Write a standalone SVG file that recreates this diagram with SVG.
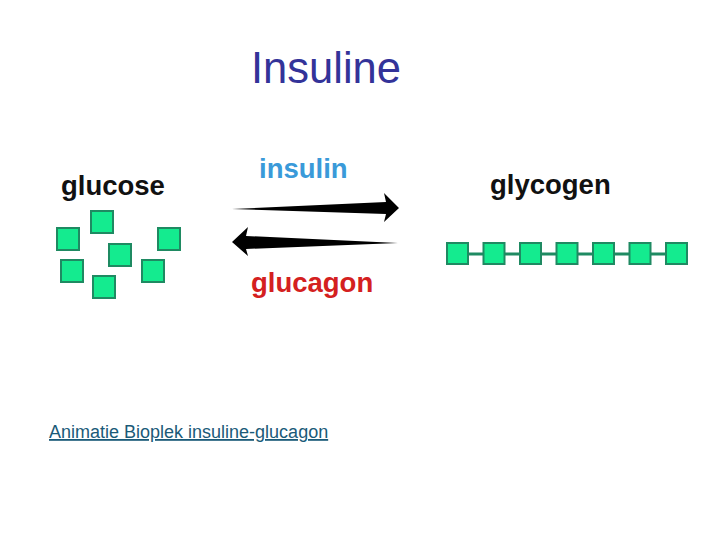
<svg xmlns="http://www.w3.org/2000/svg" width="720" height="540" viewBox="0 0 720 540">
<style>
.sq{fill:#14eb8f;stroke:#1f8a62;stroke-width:2}
.lb{font-family:"Liberation Sans",Arial,sans-serif;font-weight:bold;font-size:27.5px}
</style>
<rect width="720" height="540" fill="#fff"/>
<text x="251" y="83" font-family="Liberation Sans,Arial,sans-serif" font-size="43.5" fill="#333399">Insuline</text>
<g id="glucose">
<text class="lb" x="61" y="195" fill="#111">glucose</text>
<rect class="sq" x="91" y="211" width="22" height="22"/>
<rect class="sq" x="57" y="228" width="22" height="22"/>
<rect class="sq" x="109" y="244" width="22" height="22"/>
<rect class="sq" x="158" y="228" width="22" height="22"/>
<rect class="sq" x="61" y="260" width="22" height="22"/>
<rect class="sq" x="142" y="260" width="22" height="22"/>
<rect class="sq" x="93" y="276" width="22" height="22"/>
</g>
<g id="glycogen">
<text class="lb" x="490" y="194" font-size="28" fill="#111">glycogen</text>
<line x1="458" y1="254" x2="678" y2="254" stroke="#1f8a62" stroke-width="3"/>
<rect class="sq" x="447" y="243" width="21" height="21"/>
<rect class="sq" x="483.5" y="243" width="21" height="21"/>
<rect class="sq" x="520" y="243" width="21" height="21"/>
<rect class="sq" x="556.5" y="243" width="21" height="21"/>
<rect class="sq" x="593" y="243" width="21" height="21"/>
<rect class="sq" x="629.5" y="243" width="21" height="21"/>
<rect class="sq" x="666" y="243" width="21" height="21"/>
</g>
<g id="connectors">
<path d="M232,209 L386,202 L384,193 L399,208 L384,222 L386,214 Z" fill="#000"/>
<path d="M398,243 L246,236 L248,227 L232,242 L248,256 L246,249 Z" fill="#000"/>
<text class="lb" x="259" y="178" font-size="25.7" fill="#3a9ad9">insulin</text>
<text class="lb" x="251" y="292" font-size="25.7" fill="#d42020">glucagon</text>
</g>
<text x="49" y="438" font-family="Liberation Sans,Arial,sans-serif" font-size="18" fill="#1a5a78" text-decoration="underline">Animatie Bioplek insuline-glucagon</text>
</svg>
